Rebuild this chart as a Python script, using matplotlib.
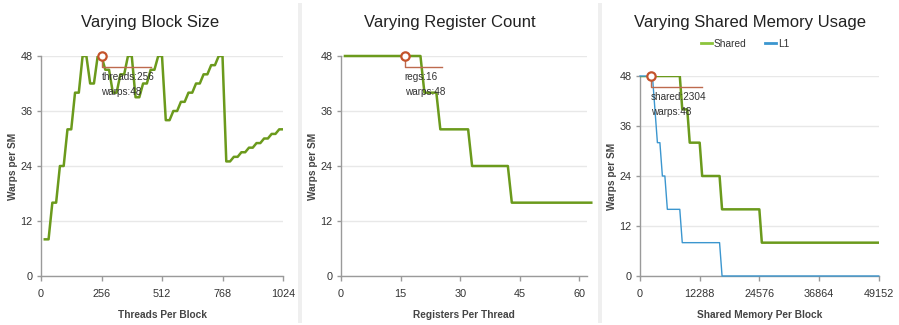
import numpy as np
import matplotlib.pyplot as plt
from matplotlib.transforms import ScaledTranslation
from matplotlib.patches import Rectangle

plt.rcParams['font.family'] = ['Liberation Sans', 'DejaVu Sans']

# warps per SM as block size changes (sampled every 16 threads)
block_threads = np.arange(16, 1040, 16)
block_warps = [8, 8, 16, 16, 24, 24, 32, 32, 40, 40, 48, 48, 42, 42, 48, 48,
               45, 45, 40, 40, 44, 44, 48, 48, 39, 39, 42, 42, 45, 45, 48, 48,
               34, 34, 36, 36, 38, 38, 40, 40, 42, 42, 44, 44, 46, 46, 48, 48,
               25, 25, 26, 26, 27, 27, 28, 28, 29, 29, 30, 30, 31, 31, 32, 32]

# warps per SM as registers per thread change (step corners)
reg_counts = [1, 20, 21, 24, 25, 32, 33, 42, 43, 63]
reg_warps = [48, 48, 40, 40, 32, 32, 24, 24, 16, 16]

# warps per SM as shared memory per block changes
smem_shared_bytes = [0, 8192, 8704, 9728, 10240, 12288, 12800, 16384, 16896, 24576, 25088, 49152]
smem_shared_warps = [48, 48, 40, 40, 32, 32, 24, 24, 16, 16, 8, 8]
smem_l1_bytes = [0, 2560, 3072, 3584, 4096, 4608, 5120, 5632, 8192, 8704, 16384, 16896, 49152]
smem_l1_warps = [48, 48, 40, 32, 32, 24, 24, 16, 16, 8, 8, 0, 0]

# current kernel configuration
cur_threads, cur_regs, cur_smem, cur_warps = 256, 16, 2304, 48

GREEN = '#6b9a1c'
GREEN_LIGHT = '#8cc43c'
BLUE = '#3b96cf'
MARK = '#c4532b'
GUIDE = '#bd6a4e'
GRID = '#e8e8e8'
SPINE = '#9a9a9a'
TEXT = '#333333'

W, H = 899, 325
fig = plt.figure(figsize=(W / 100, H / 100), dpi=100)
fig.patch.set_facecolor('white')

# light separators between the three panels
for x in (298, 598):
    fig.patches.append(Rectangle((x / W, 2 / H), 4 / W, 320 / H, transform=fig.transFigure,
                                 facecolor='#efefef', edgecolor='none', zorder=0))


def add_panel(left, right, top, bottom, xlim, xticks, xlabel):
    ax = fig.add_axes([left / W, 1 - bottom / H, (right - left) / W, (bottom - top) / H])
    ax.set_xlim(*xlim)
    ax.set_ylim(0, 48)
    ax.set_xticks(xticks)
    ax.set_yticks([0, 12, 24, 36, 48])
    ax.grid(axis='y', color=GRID, lw=1)
    ax.set_axisbelow(True)
    for s in ('top', 'right'):
        ax.spines[s].set_visible(False)
    for s in ('left', 'bottom'):
        ax.spines[s].set_color(SPINE)
        ax.spines[s].set_linewidth(1)
    ax.tick_params(axis='y', length=3, width=1, color=SPINE, pad=3, labelsize=7.8, labelcolor=TEXT)
    ax.tick_params(axis='x', length=3.6, width=1, color=SPINE, pad=6, labelsize=7.8, labelcolor=TEXT)
    ax.set_xlabel(xlabel, fontsize=7.3, fontweight='bold', color='#444444')
    ax.set_ylabel('Warps per SM', fontsize=7.3, fontweight='bold', color='#444444')
    ax.yaxis.set_label_coords(-23 / (right - left), 0.5)
    ax.xaxis.set_label_coords(0.5, -34 / (bottom - top))
    return ax


def mark_current(ax, x, y, line_px, lines):
    tr = fig.dpi_scale_trans + ScaledTranslation(x, y, ax.transData)
    ax.plot([0, 0, line_px / 100], [0, -11 / 100, -11 / 100], color=GUIDE, lw=1,
            transform=tr, zorder=4, clip_on=False)
    for i, txt in enumerate(lines):
        ax.annotate(txt, xy=(x, y), xytext=(0, -21 - 15 * i), textcoords='offset pixels',
                    ha='left', va='center', fontsize=7.2, color=TEXT, zorder=6,
                    annotation_clip=False)
    ax.plot([x], [y], 'o', ms=6, mfc='white', mec=MARK, mew=1.6, zorder=7, clip_on=False)


titles = [('Varying Block Size', 150), ('Varying Register Count', 450),
          ('Varying Shared Memory Usage', 750)]
for t, cx in titles:
    fig.text(cx / W, 1 - 26.5 / H, t, ha='center', va='baseline', fontsize=12, color='#222222')

ax1 = add_panel(41, 283, 56, 276, (0, 1024), [0, 256, 512, 768, 1024], 'Threads Per Block')
ax1.plot(block_threads, block_warps, color=GREEN, lw=1.8, zorder=3)
mark_current(ax1, cur_threads, cur_warps, 49, ['threads:%d' % cur_threads, 'warps:%d' % cur_warps])

ax2 = add_panel(341, 587.3, 56, 276, (0, 62), [0, 15, 30, 45, 60], 'Registers Per Thread')
ax2.plot(reg_counts, reg_warps, color=GREEN, lw=1.8, zorder=3, clip_on=False)
mark_current(ax2, cur_regs, cur_warps, 37, ['regs:%d' % cur_regs, 'warps:%d' % cur_warps])

ax3 = add_panel(640, 878.7, 76, 276, (0, 49152), [0, 12288, 24576, 36864, 49152],
                'Shared Memory Per Block')
ax3.plot(smem_shared_bytes, smem_shared_warps, color=GREEN, lw=1.8, zorder=3)
ax3.plot(smem_l1_bytes, smem_l1_warps, color=BLUE, lw=1, zorder=3, clip_on=False)
mark_current(ax3, cur_smem, cur_warps, 51, ['shared:%d' % cur_smem, 'warps:%d' % cur_warps])

leg_shared = plt.Line2D([], [], color=GREEN_LIGHT, lw=2)
leg_l1 = plt.Line2D([], [], color=BLUE, lw=2)
fig.legend([leg_shared, leg_l1], ['Shared', 'L1'], loc='center',
           bbox_to_anchor=(745 / W, 1 - 44 / H), ncol=2, frameon=False, fontsize=7.3,
           handlelength=1.1, handletextpad=0.2, columnspacing=1.8, labelcolor=TEXT)

fig.savefig('out.png', dpi=100, facecolor='white')
